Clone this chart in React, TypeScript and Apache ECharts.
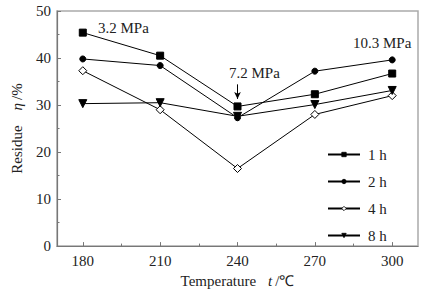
import React, { useEffect, useRef } from "react";
import * as echarts from "echarts";

const temperatures = [180, 210, 240, 270, 300];
const minorTicks = [195, 225, 255, 285];
const series1h = [45.4, 40.5, 29.7, 32.3, 36.7];
const series2h = [39.8, 38.4, 27.3, 37.2, 39.6];
const series4h = [37.3, 29.0, 16.5, 28.0, 32.0];
const series8h = [30.3, 30.5, 27.6, 30.1, 33.1];
const seriesNames = ["1 h", "2 h", "4 h", "8 h"];

const FONT = "Liberation Serif";
const AXIS_COLOR = "#777";
const TEXT_COLOR = "#222";

export default function App() {
  const ref = useRef<HTMLDivElement>(null);
  useEffect(() => {
    if (!ref.current) return;
    const chart = echarts.init(ref.current, null, { renderer: "svg" });
    const pair = (vals: number[]) => vals.map((v, i) => [temperatures[i], v]);
    const base = {
      type: "line",
      lineStyle: { color: "#000", width: 1 },
      itemStyle: { color: "#000", borderColor: "#000", borderWidth: 1 },
      emphasis: { disabled: true },
    };
    chart.setOption({
      animation: false,
      backgroundColor: "#fff",
      textStyle: { fontFamily: FONT },
      grid: {
        left: 57,
        right: 18,
        top: 11,
        bottom: 44,
        show: true,
        borderColor: "#aaa",
        borderWidth: 1.5,
      },
      legend: {
        orient: "vertical",
        left: 322,
        top: 142,
        itemWidth: 32,
        itemHeight: 5.5,
        itemGap: 12,
        itemStyle: { borderWidth: 0.8 },
        textStyle: { fontFamily: FONT, fontSize: 15, color: TEXT_COLOR, padding: [0, 0, 0, 3], lineHeight: 15 },
        data: seriesNames,
      },
      xAxis: [
        {
          type: "value",
          min: 170,
          max: 310,
          name: "{n|Temperature}    {i|t} {n|/℃}",
          nameLocation: "middle",
          nameGap: 23,
          nameTextStyle: {
            rich: {
              n: { fontFamily: FONT, fontSize: 15, color: TEXT_COLOR },
              i: { fontFamily: FONT, fontSize: 15, color: TEXT_COLOR, fontStyle: "italic" },
            },
          },
          axisLine: { show: true, lineStyle: { color: AXIS_COLOR, width: 1.2 } },
          axisTick: { show: true, inside: true, length: 4, customValues: temperatures, lineStyle: { color: AXIS_COLOR } },
          axisLabel: { customValues: temperatures, fontFamily: FONT, fontSize: 15, color: TEXT_COLOR, margin: 7 },
          splitLine: { show: false },
        },
        {
          type: "value",
          min: 170,
          max: 310,
          position: "bottom",
          axisLine: { show: false },
          axisTick: { show: true, inside: true, length: 2.5, customValues: minorTicks, lineStyle: { color: AXIS_COLOR } },
          axisLabel: { show: false },
          splitLine: { show: false },
        },
      ],
      yAxis: {
        type: "value",
        min: 0,
        max: 50,
        interval: 10,
        name: "{n|Residue}     {i|η} {n|/%}",
        nameLocation: "middle",
        nameGap: 33,
        nameTextStyle: {
          rich: {
            n: { fontFamily: FONT, fontSize: 15, color: TEXT_COLOR },
            i: { fontFamily: FONT, fontSize: 15, color: TEXT_COLOR, fontStyle: "italic" },
          },
        },
        axisLine: { show: true, lineStyle: { color: AXIS_COLOR, width: 1.2 } },
        axisTick: { show: true, inside: true, length: 4, lineStyle: { color: AXIS_COLOR } },
        minorTick: { show: true, splitNumber: 2, length: 2.5, lineStyle: { color: AXIS_COLOR } },
        axisLabel: { fontFamily: FONT, fontSize: 15, color: TEXT_COLOR, margin: 6 },
        splitLine: { show: false },
      },
      graphic: [
        { type: "text", left: 98, top: 20, style: { text: "3.2 MPa", font: `15px ${FONT}`, fill: TEXT_COLOR } },
        { type: "text", left: 229, top: 65, style: { text: "7.2 MPa", font: `15px ${FONT}`, fill: TEXT_COLOR } },
        { type: "text", left: 353, top: 35, style: { text: "10.3 MPa", font: `15px ${FONT}`, fill: TEXT_COLOR } },
      ],
      series: [
        {
          ...base,
          name: seriesNames[0],
          data: pair(series1h),
          symbol: "rect",
          symbolSize: 7,
          markLine: {
            silent: true,
            symbol: ["none", "arrow"],
            symbolSize: [5, 7],
            label: { show: false },
            lineStyle: { color: "#000", width: 1, type: "solid" },
            data: [[{ coord: [240, 34.4] }, { coord: [240, 31.3] }]],
          },
        },
        { ...base, name: seriesNames[1], data: pair(series2h), symbol: "circle", symbolSize: 6 },
        {
          ...base,
          name: seriesNames[2],
          data: pair(series4h),
          symbol: "diamond",
          symbolSize: 8,
          itemStyle: { color: "#fff", borderColor: "#000", borderWidth: 1 },
        },
        { ...base, name: seriesNames[3], data: pair(series8h), symbol: "triangle", symbolRotate: 180, symbolSize: 8 },
      ],
    });
    return () => chart.dispose();
  }, []);
  return <div ref={ref} style={{ width: 436, height: 293, position: "absolute", left: 0, top: 0 }} />;
}
